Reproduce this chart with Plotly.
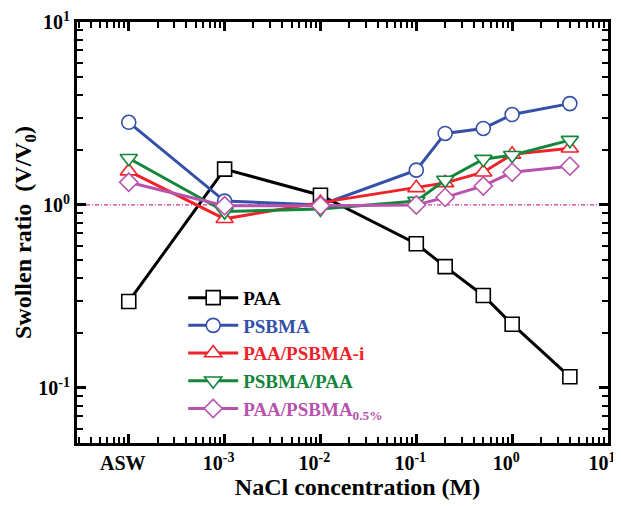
import plotly.graph_objects as go

# x positions: ASW plotted at 1e-4
x_vals = [1e-4, 1e-3, 1e-2, 0.1, 0.2, 0.5, 1.0, 4.0]

paa = [0.297, 1.57, 1.13, 0.614, 0.46, 0.32, 0.223, 0.115]
psbma = [2.83, 1.05, 1.0, 1.55, 2.46, 2.62, 3.12, 3.58]
paa_psbma_i = [1.53, 0.84, 1.03, 1.24, 1.32, 1.51, 1.89, 2.04]
psbma_paa = [1.80, 0.92, 0.95, 1.05, 1.37, 1.78, 1.87, 2.26]
paa_psbma_05 = [1.33, 0.99, 0.99, 1.0, 1.1, 1.27, 1.51, 1.63]

x_tickvals = [1e-4, 1e-3, 1e-2, 1e-1, 1, 10]
x_ticktext = ["ASW", "10<sup>-3</sup>", "10<sup>-2</sup>", "10<sup>-1</sup>",
              "10<sup>0</sup>", "10<sup>1</sup>"]
y_tickvals = [0.1, 1, 10]
y_ticktext = ["10<sup>-1</sup>", "10<sup>0</sup>", "10<sup>1</sup>"]

x_minor = [m * 10.0 ** e for e in range(-5, 1) for m in range(2, 10)]
y_minor = [m * 10.0 ** e for e in range(-2, 1) for m in range(2, 10)]

series = [
    ("PAA", paa, "#000000", "square"),
    ("PSBMA", psbma, "#3450a8", "circle"),
    ("PAA/PSBMA-i", paa_psbma_i, "#ee2229", "triangle-up"),
    ("PSBMA/PAA", psbma_paa, "#14853a", "triangle-down"),
    ("PAA/PSBMA<sub>0.5%</sub>", paa_psbma_05, "#b853ad", "diamond"),
]

FONT = "Liberation Serif"
X_RANGE = [-4.54, 1]
Y_RANGE = [-1.301, 1]

fig = go.Figure()
# empty trace to anchor the minor-tick overlay axes
fig.add_trace(go.Scatter(x=[None], y=[None], xaxis="x2", yaxis="y2",
                         showlegend=False, hoverinfo="skip"))
for name, ys, col, sym in series:
    fig.add_trace(go.Scatter(
        x=x_vals, y=ys, mode="lines+markers",
        name=f'<span style="color:{col}">{name}</span>',
        line=dict(color=col, width=3),
        marker=dict(symbol=sym, size=15 if "triangle" in sym else 14,
                    color="white", line=dict(color=col, width=1.6)),
    ))

fig.add_shape(type="line", xref="paper", yref="y", x0=0, x1=1, y0=1, y1=1,
              line=dict(color="#d0309a", width=1.2, dash="4px,2px,1px,2px"), layer="below")

def axis_major():
    return dict(
        type="log", showgrid=False, zeroline=False, showline=True, linewidth=3,
        linecolor="black", mirror="ticks", ticks="inside", ticklen=9, tickwidth=2.5,
        tickcolor="black", tickmode="array", automargin=False,
        ticklabeloverflow="allow",
        tickfont=dict(family=FONT, size=20, color="black", weight="bold"),
    )

def axis_minor(vals):
    return dict(
        type="log", showgrid=False, zeroline=False, showline=True, linewidth=3,
        linecolor="black", mirror="ticks", ticks="inside", ticklen=6, tickwidth=2,
        tickcolor="black", tickmode="array", tickvals=vals, showticklabels=False,
        automargin=False,
    )

fig.update_layout(
    width=613, height=498,
    margin=dict(l=69, r=13, t=14, b=63),
    paper_bgcolor="white", plot_bgcolor="white",
    showlegend=True,
    legend=dict(x=0.2, y=0.39, xanchor="left", yanchor="top",
                bgcolor="rgba(0,0,0,0)", borderwidth=0,
                font=dict(family=FONT, size=19, weight="bold"),
                itemwidth=50, tracegroupgap=0),
    xaxis=dict(axis_major(), range=X_RANGE, tickvals=x_tickvals, ticktext=x_ticktext,
               ticklabelshift=-6,
               title=dict(text="&nbsp;&nbsp;&nbsp;&nbsp;&nbsp;NaCl concentration (M)", standoff=6,
                          font=dict(family=FONT, size=24, color="black", weight="bold"))),
    yaxis=dict(axis_major(), range=Y_RANGE, tickvals=y_tickvals, ticktext=y_ticktext,
               title=dict(text="Swollen ratio&nbsp;&nbsp;(V/V<sub>0</sub>)", standoff=0,
                          font=dict(family=FONT, size=24, color="black", weight="bold"))),
    xaxis2=dict(axis_minor(x_minor), range=X_RANGE, overlaying="x", anchor="y2", side="bottom"),
    yaxis2=dict(axis_minor(y_minor), range=Y_RANGE, overlaying="y", anchor="x2", side="left"),
)

fig.write_html("out.html")
